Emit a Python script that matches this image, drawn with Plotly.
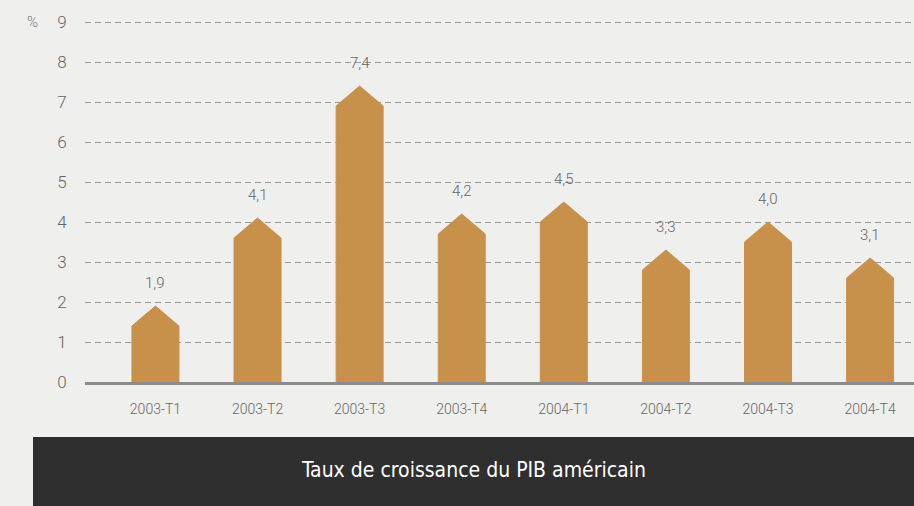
import plotly.graph_objects as go

categories = ["2003-T1", "2003-T2", "2003-T3", "2003-T4", "2004-T1", "2004-T2", "2004-T3", "2004-T4"]
values = [1.9, 4.1, 7.4, 4.2, 4.5, 3.3, 4.0, 3.1]
y_ticks = [0, 1, 2, 3, 4, 5, 6, 7, 8, 9]
title_text = "Taux de croissance du PIB américain"
unit_text = "%"

BAR_COLOR = "#c8914b"
BG = "#efefed"
NARROW = "DejaVu Sans Condensed, Roboto, sans-serif"
LIGHT = "Roboto, sans-serif"

half_w = 0.23
peak = 0.5

fig = go.Figure()
for i, v in enumerate(values):
    xs = [i - half_w, i - half_w, i, i + half_w, i + half_w, i - half_w]
    ys = [0, v - peak, v, v - peak, 0, 0]
    fig.add_trace(go.Scatter(x=xs, y=ys, mode="lines", fill="toself",
                             fillcolor=BAR_COLOR, line=dict(color=BAR_COLOR, width=1),
                             hoverinfo="skip", showlegend=False))
    fig.add_annotation(x=i, y=v, text=f"{v:.1f}".replace(".", ","), showarrow=False,
                       yanchor="bottom", yshift=12,
                       font=dict(family=LIGHT, size=15, color="#666666", weight=300))

fig.update_xaxes(range=[-0.69, 7.43], tickmode="array", tickvals=list(range(len(categories))),
                 ticktext=categories, showgrid=False, zeroline=False,
                 showline=True, linecolor="#8c8c8c", linewidth=3,
                 ticks="outside", ticklen=12, tickcolor="rgba(0,0,0,0)",
                 tickfont=dict(family=LIGHT, size=14, color="#666666", weight=300))
fig.update_yaxes(range=[0, 9.4], tickmode="array", tickvals=y_ticks,
                 showgrid=True, gridcolor="#999999", gridwidth=1, griddash="6px,4px",
                 zeroline=False, showline=False, ticks="outside", ticklen=14,
                 tickcolor="rgba(0,0,0,0)",
                 tickfont=dict(family=LIGHT, size=17, color="#666666", weight=300))

fig.add_annotation(xref="paper", yref="paper", x=(32 - 85) / 829, y=(382 - 22) / 376,
                   xanchor="center", yanchor="middle",
                   text=unit_text, showarrow=False,
                   font=dict(family=LIGHT, size=15, color="#777777", weight=300))

fig.add_shape(type="rect", xref="paper", yref="paper",
              x0=(33 - 85) / 829, x1=1.0, y0=(382 - 506) / 376, y1=(382 - 437) / 376,
              fillcolor="#2f2f2f", line=dict(width=0), layer="below")
fig.add_annotation(xref="paper", yref="paper", x=(473 - 85) / 829, y=(382 - 470) / 376,
                   xanchor="center", yanchor="middle",
                   text=title_text, showarrow=False,
                   font=dict(family=NARROW, size=21, color="#ffffff"))

fig.update_layout(width=914, height=506, margin=dict(l=85, r=0, t=6, b=124),
                  paper_bgcolor=BG, plot_bgcolor=BG)

fig.write_html("out.html", post_script="document.body.style.margin='0';",
               config={"displayModeBar": False})
